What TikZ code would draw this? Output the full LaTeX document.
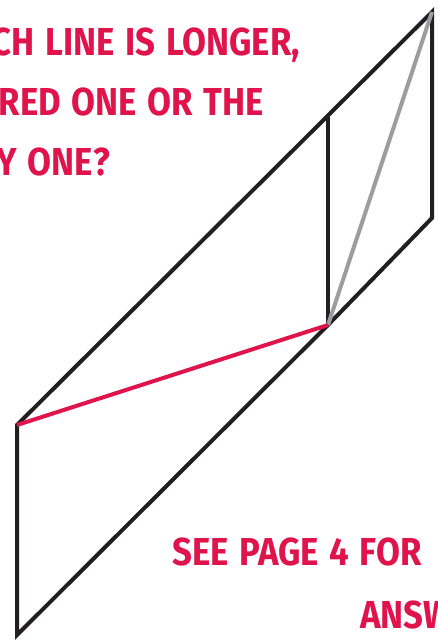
\documentclass[tikz,border=0pt]{standalone}
\usepackage{xcolor}
\usepackage{fontspec}
\newfontfamily\handfont{Fira Sans}[FakeStretch=0.89, WordSpace=1.3]
\definecolor{quizred}{HTML}{E0144C}
\definecolor{quizgrey}{HTML}{9D9DA1}
\definecolor{quizblack}{HTML}{231F20}
\usetikzlibrary{positioning}

\begin{document}
\begin{tikzpicture}[
    x=1pt, y=-1pt,
    edge/.style={draw=quizblack, line width=4pt, line join=miter},
    redline/.style={draw=quizred, line width=4pt},
    greyline/.style={draw=quizgrey, line width=4pt},
    question/.style={text=quizred, inner sep=0pt, font=\handfont\bfseries\fontsize{39}{39}\selectfont}
]
\useasboundingbox (0,0) rectangle (438,640);
\clip (0,0) rectangle (438,640);

% corner points
\coordinate (top) at (432,12);
\coordinate (rbot) at (432,218);
\coordinate (mtop) at (328,117);
\coordinate (mid) at (328,325);
\coordinate (ltop) at (17,425);
\coordinate (lbot) at (17,635);

% the two parallelograms
\draw[edge] (top) -- (ltop) -- (lbot) -- (mid) -- (rbot) -- cycle;
\draw[edge] (mtop) -- (mid);

% compared lines
\draw[greyline] (top) -- (mid);
\draw[redline] (ltop) -- (mid);

% texts
\node[question, anchor=base east] (qone) at (300,55) {CH LINE IS LONGER,};
\node[question, anchor=base east] (qtwo) at (264,115) {RED ONE OR THE};
\node[question, anchor=base east] (qthree) at (110,175) {Y ONE?};
\node[question, anchor=base west] (see) at (172,565) {SEE PAGE 4 FOR};
\node[question, anchor=base west] (answ) at (360,628) {ANSW};

\end{tikzpicture}
\end{document}
